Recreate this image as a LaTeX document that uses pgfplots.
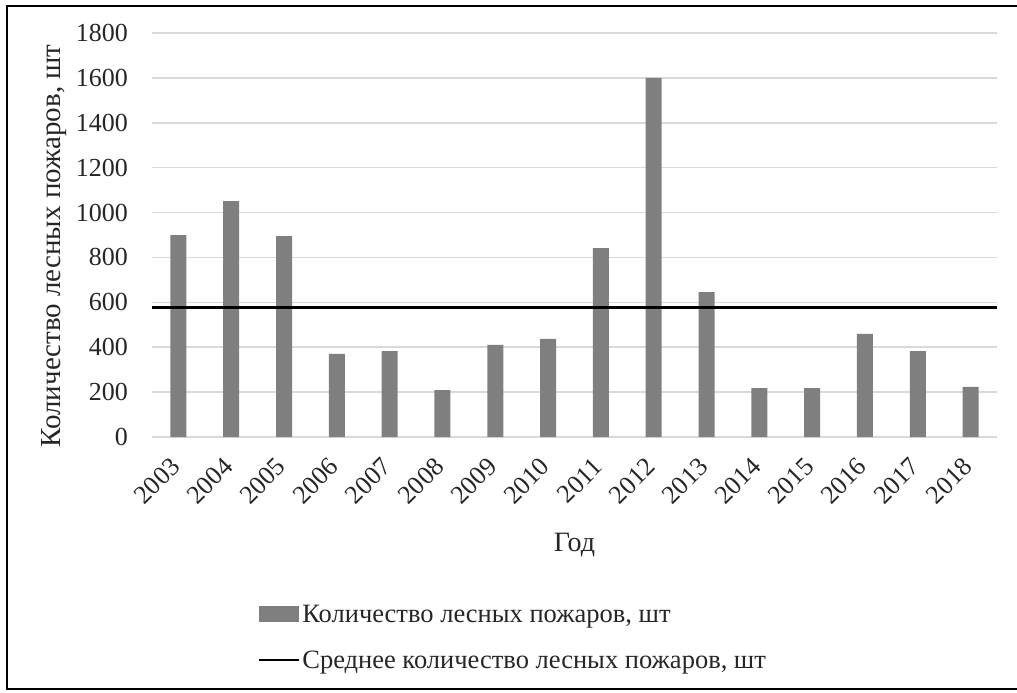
\documentclass[border=0pt]{standalone}
\usepackage{fontspec}
\setmainfont{Liberation Serif}
\usepackage{pgfplots}
\pgfplotsset{compat=1.18}
\definecolor{bargray}{HTML}{7F7F7F}
\definecolor{gridgray}{HTML}{D9D9D9}
\begin{document}
\begin{tikzpicture}
\useasboundingbox (-152pt,-256pt) rectangle (865pt,437pt);
\begin{axis}[
  scale only axis,
  width=845pt, height=404pt,
  at={(0pt,0pt)}, anchor=south west,
  xmin=-0.5, xmax=15.5,
  ymin=0, ymax=1800,
  ytick={0,200,...,1800},
  xtick={0,...,15},
  xticklabels={2003,2004,2005,2006,2007,2008,2009,2010,2011,2012,2013,2014,2015,2016,2017,2018},
  axis line style={draw=none},
  major tick length=0pt,
  ymajorgrids,
  grid style={gridgray, line width=1.5pt},
  /pgf/number format/assume math mode=true,
  /pgf/number format/1000 sep={},
  tick label style={font=\fontsize{26}{30}\selectfont, text=black!85},
  yticklabel style={anchor=east, inner sep=0pt, xshift=-24pt},
  xticklabel style={rotate=45, anchor=north east, inner sep=0pt, xshift=-20pt, yshift=-7pt},
  xlabel={Год},
  xlabel style={font=\fontsize{28}{32}\selectfont, text=black!85, at={(axis description cs:0.5,0)}, anchor=center, yshift=-108pt},
  ylabel={Количество лесных пожаров, шт},
  ylabel style={font=\fontsize{29}{33}\selectfont, text=black!85, at={(axis description cs:0,0.5)}, anchor=center, xshift=-11pt, yshift=98pt},
  legend style={at={(0.125,-0.41)}, anchor=north west, draw=none, fill=none,
    font=\fontsize{26.5}{30}\selectfont, text=black!85, row sep=23pt, inner sep=0pt,
    /tikz/every even column/.append style={column sep=0pt}},
  legend cell align=left,
]
\addplot[ybar, bar width=16pt, fill=bargray, draw=none,
  legend image code/.code={\fill[bargray] (0pt,-8pt) rectangle (40pt,8pt);}]
coordinates {
(0,900) (1,1051) (2,895) (3,370) (4,383) (5,209) (6,410) (7,437)
(8,842) (9,1600) (10,646) (11,218) (12,218) (13,459) (14,383) (15,223)
};
\addlegendentry{Количество лесных пожаров, шт}
\addplot[black, line width=2.5pt, sharp plot, mark=none,
  legend image code/.code={\draw[black, line width=2.5pt] (0pt,0pt) -- (40pt,0pt);}]
coordinates {(-0.5,578) (15.5,578)};
\addlegendentry{Среднее количество лесных пожаров, шт}
\end{axis}
\draw[line width=1.5pt] (-145pt,-252pt) rectangle (880pt,431pt);
\end{tikzpicture}
\end{document}
